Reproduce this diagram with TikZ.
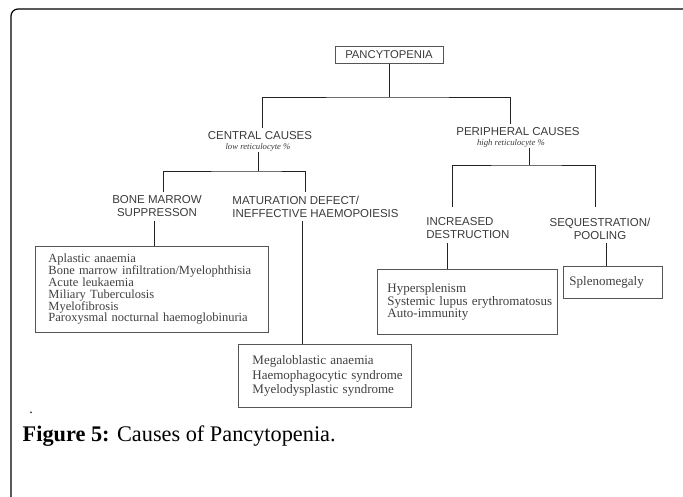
\documentclass[tikz,border=0pt]{standalone}
\usepackage{fontspec}
\setmainfont{Liberation Serif}
\setsansfont{Liberation Sans}
\usepackage{tikz}
\usetikzlibrary{positioning,calc}
\definecolor{linegray}{HTML}{222222}
\definecolor{boxgray}{HTML}{555555}
\definecolor{labelgray}{HTML}{3A3A3A}
\definecolor{itemgray}{HTML}{404040}
\hyphenpenalty=10000
\exhyphenpenalty=10000
\tikzstyle{headbox}=[draw=boxgray,line width=0.9pt,minimum width=108pt,minimum height=17pt,inner sep=0pt,font=\sffamily\fontsize{11.3}{13}\selectfont,text=labelgray]
\tikzstyle{cause}=[font=\sffamily\fontsize{11.5}{13}\selectfont,text=labelgray,inner sep=3.33pt]
\tikzstyle{retic}=[font=\itshape\fontsize{8.7}{9}\selectfont,text=labelgray,inner sep=1pt]
\tikzstyle{listbox}=[draw=boxgray,line width=0.9pt,anchor=north west,align=left,text=itemgray,execute at begin node={\hyphenpenalty=10000}]

\begin{document}
\begin{tikzpicture}[x=1pt,y=-1pt,line width=0.8pt,draw=linegray]
\useasboundingbox (0,0) rectangle (683,497);
\draw[black,line width=1.2pt,rounded corners=7pt] (11,497) -- (11,9) -- (683,9);

\node [headbox] (pan) at (389,55) {PANCYTOPENIA};
\node [cause] (cc) at (260,136) {CENTRAL CAUSES};
\node [retic] (ccnote) at (258,147) {low reticulocyte \%};
\node [cause] (pc) at (518,132) {PERIPHERAL CAUSES};
\node [retic] (pcnote) at (511,143) {high reticulocyte \%};

\node [cause,align=center] (bm) at (157,206.5) {BONE MARROW\\SUPPRESSON};
\node [cause,align=left,anchor=west] (md) at (228.7,206.5) {MATURATION DEFECT/\\INEFFECTIVE HAEMOPOIESIS};
\node [cause,align=left,anchor=west] (inc) at (422.7,228.5) {INCREASED\\DESTRUCTION};
\node [cause,align=center] (seq) at (600,228.5) {SEQUESTRATION/\\POOLING};

\node [listbox,inner xsep=13pt,text width=207pt,minimum height=86pt,font=\fontsize{12.5}{11.8}\selectfont] (aplastic) at (35,246)
  {Aplastic~anaemia\\Bone~marrow~infiltration/Myelophthisia\\Acute~leukaemia\\Miliary~Tuberculosis\\Myelofibrosis\\Paroxysmal~nocturnal~haemoglobinuria};
\node [listbox,inner xsep=14pt,text width=145pt,minimum height=63pt,font=\fontsize{13}{14.5}\selectfont] (mega) at (238,344)
  {Megaloblastic~anaemia\\Haemophagocytic~syndrome\\Myelodysplastic~syndrome};
\node [listbox,inner xsep=10pt,text width=160pt,minimum height=65pt,font=\fontsize{13}{11.5}\selectfont] (hyper) at (377,269)
  {Hypersplenism\\Systemic~lupus~erythromatosus\\Auto-immunity};
\node [listbox,inner xsep=6pt,text width=87pt,minimum height=32pt,font=\fontsize{13}{14}\selectfont] (splen) at (563,266)
  {Splenomegaly};

\node [anchor=base,font=\fontsize{14}{14}\selectfont] (dot) at (31,413) {.};
\node [anchor=base west,font=\fontsize{22.3}{26}\selectfont] (caption) at (19,441) {\textbf{Figure 5:} Causes of Pancytopenia.};

% first split
\coordinate (j1) at (389,97);
\draw (pan) -- (j1);
\draw ([xshift=2pt]cc.north) |- (j1) -| ([xshift=-8pt]pc.north);

% central causes
\coordinate (j2) at (258,171);
\draw (ccnote.south) -- (j2);
\draw ([xshift=6pt]bm.north) |- (j2) -| ([xshift=-10pt]md.north);
\draw ([xshift=-3pt]bm.south) -- ([xshift=-3pt]bm.south |- aplastic.north);
\draw ([xshift=-13pt]md.south) -- ([xshift=-13pt]md.south |- mega.north);

% peripheral causes
\coordinate (j3) at (529,165);
\draw ([xshift=18pt]pcnote.south) -- (j3);
\draw ([xshift=-16pt,yshift=7pt]inc.north) |- (j3) -| ([xshift=-5pt,yshift=7pt]seq.north);
\draw ([xshift=-21pt]inc.south) -- ([xshift=-21pt]inc.south |- hyper.north);
\draw ([xshift=6pt]seq.south) -- ([xshift=6pt]seq.south |- splen.north);
\end{tikzpicture}
\end{document}
